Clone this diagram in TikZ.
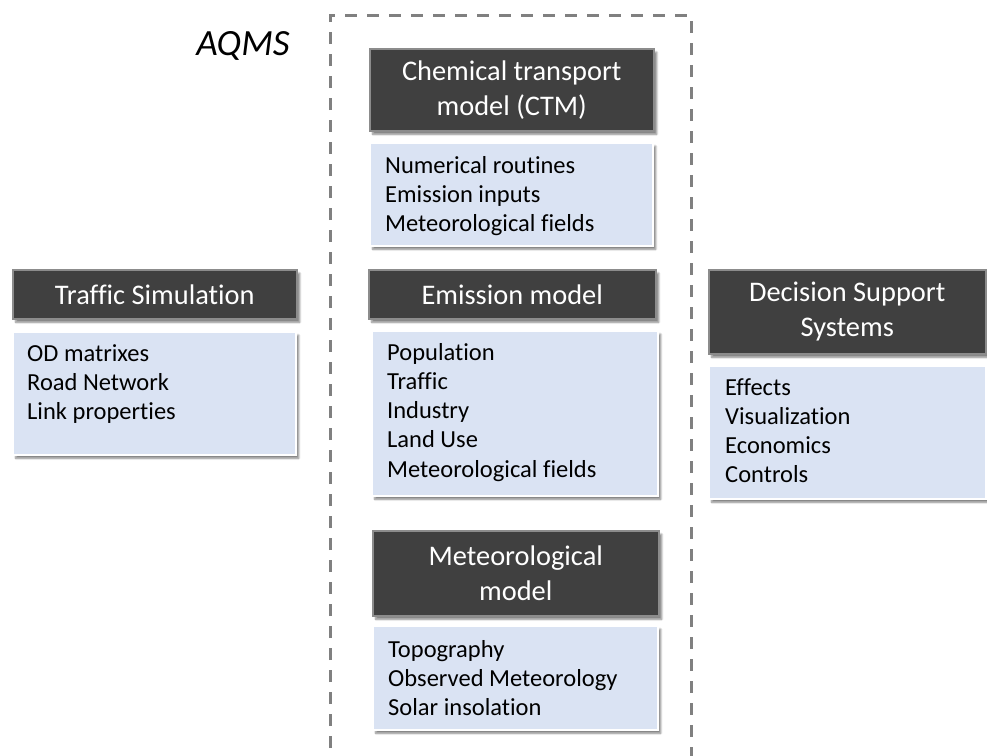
\documentclass[tikz,border=0pt]{standalone}
\usepackage{fontspec}
\setmainfont{Carlito}[Ligatures={NoCommon}]
\usetikzlibrary{shadows.blur}
\definecolor{darkfill}{HTML}{404040}
\definecolor{darkedge}{HTML}{8C8C8C}
\definecolor{lightfill}{HTML}{DAE3F3}
\definecolor{framegray}{HTML}{808080}
\newcommand{\itemlines}[1]{\begin{tabular}[t]{@{}l@{}}#1\end{tabular}}
\tikzset{
  darkbox/.style={anchor=north west, fill=darkfill, draw=darkedge, line width=1.5pt,
    text=white, align=center, inner sep=0pt,
    font=\fontsize{28.4}{35}\selectfont,
    blur shadow={shadow xshift=3pt, shadow yshift=-3.5pt, shadow blur steps=8, shadow opacity=50}},
  lightbox/.style={anchor=north west, fill=lightfill, draw=white, line width=1.5pt, inner sep=0pt,
    blur shadow={shadow xshift=3pt, shadow yshift=-3.5pt, shadow blur steps=8, shadow opacity=50}},
  listtext/.style={anchor=base west, inner sep=0pt, text=black,
    font=\fontsize{24.5}{29.3}\selectfont},
  frame/.style={draw=framegray, line width=3pt, dash pattern=on 12pt off 10pt},
}
\begin{document}
\begin{tikzpicture}[x=1pt,y=-1pt]
\useasboundingbox (0,0) rectangle (987,755);
% dashed frame
\coordinate (fbl) at (330,770);
\coordinate (ftl) at (330,15);
\coordinate (ftr) at (691,15);
\coordinate (fbr) at (691,770);
\draw[frame] (fbl) -- (ftl) -- (ftr) -- (fbr);
\node[font=\itshape\fontsize{37}{44}\selectfont, inner sep=0pt, anchor=base] (aqms) at (243,55) {AQMS};

% CTM
\node[darkbox, minimum width=284pt, minimum height=82pt] (ctm) at (369,48) {Chemical transport\\model (CTM)};
\node[lightbox, minimum width=283pt, minimum height=103pt] (ctml) at (369,142) {};
\node[listtext] (ctmt) at (385,173) {\itemlines{Numerical routines\\Emission inputs\\Meteorological fields}};

% Emission
\node[darkbox, minimum width=287pt, minimum height=49pt] (emi) at (368,269) {Emission model};
\node[lightbox, minimum width=286pt, minimum height=165pt] (emil) at (371,330) {};
\node[listtext] (emit) at (387,360) {\itemlines{Population\\Traffic\\Industry\\Land Use\\Meteorological fields}};

% Meteorological
\node[darkbox, minimum width=286pt, minimum height=85pt] (met) at (372,530) {Meteorological\\model};
\node[lightbox, minimum width=285pt, minimum height=104pt] (metl) at (372,625) {};
\node[listtext] (mett) at (388,657) {\itemlines{Topography\\Observed Meteorology\\Solar insolation}};

% Traffic
\node[darkbox, minimum width=284pt, minimum height=49pt] (tra) at (12,269) {Traffic Simulation};
\node[lightbox, minimum width=283pt, minimum height=123pt] (tral) at (12,331) {};
\node[listtext] (trat) at (27,361) {\itemlines{OD matrixes\\Road Network\\Link properties}};

% Decision
\node[darkbox, minimum width=277pt, minimum height=84pt] (dss) at (708,269) {Decision Support\\Systems};
\node[lightbox, minimum width=277pt, minimum height=133pt] (dssl) at (708,365) {};
\node[listtext] (dsst) at (725,395) {\itemlines{Effects\\Visualization\\Economics\\Controls}};
\end{tikzpicture}
\end{document}
